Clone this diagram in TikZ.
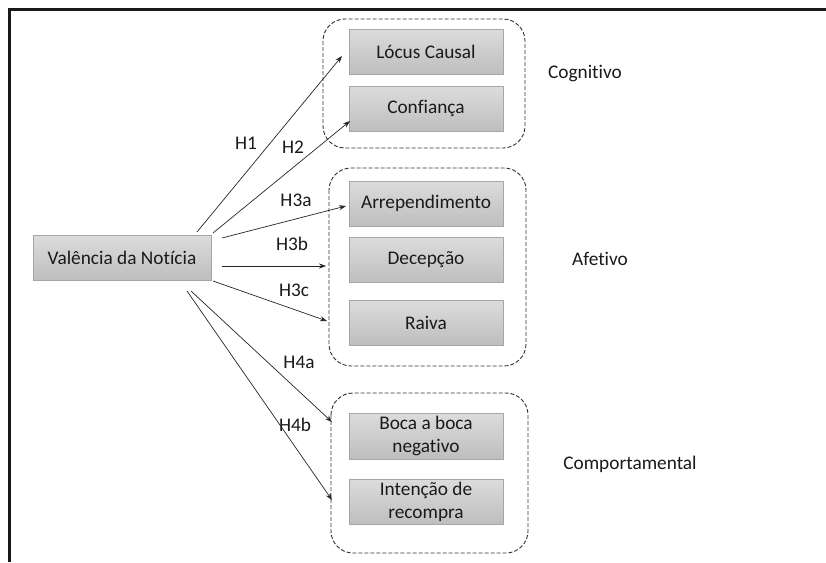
\documentclass[tikz,border=0pt]{standalone}
\usepackage{fontspec}
\setmainfont{Carlito}[Ligatures={NoCommon}]
\usetikzlibrary{arrows.meta}
\definecolor{boxborder}{HTML}{A6A6A6}
\definecolor{boxtop}{HTML}{DCDCDC}
\definecolor{boxbot}{HTML}{BEBEBE}
\definecolor{txt}{HTML}{1A1A1A}
\tikzset{
  varbox/.style={draw=boxborder, line width=0.8pt, top color=boxtop, bottom color=boxbot,
    minimum width=154pt, minimum height=45pt, inner sep=0pt, align=center,
    font=\fontsize{19.3}{23}\selectfont, text=txt},
  groupbox/.style={draw=black!80, dashed, dash pattern=on 4pt off 2pt, line width=0.9pt, rounded corners=22pt},
  grouplabel/.style={font=\fontsize{19.3}{22}\selectfont, text=txt},
  hlabel/.style={font=\fontsize{19.3}{22}\selectfont, text=txt},
  link/.style={draw=black!85, line width=0.7pt, -{Stealth[length=7pt,width=5pt]}},
  frameline/.style={draw=black!90, line width=2.2pt}
}
\begin{document}
\begin{tikzpicture}[x=1pt,y=-1pt]
\useasboundingbox (0,0) rectangle (826,562);
\fill[white] (0,0) rectangle (826,562);
% frame
\draw[frameline] (9.5,562) -- (9.5,9.5) -- (826,9.5);
% group boxes
\draw[groupbox] (323,19) rectangle (525,148);
\draw[groupbox] (329,168) rectangle (526,366);
\draw[groupbox] (331,393) rectangle (528,553);
% source
\node[varbox, minimum width=178pt] (val) at (122,257.5) {Valência da Notícia};
% targets
\node[varbox] (locus) at (426,51.5) {Lócus Causal};
\node[varbox] (conf) at (426,108.5) {Confiança};
\node[varbox] (arre) at (426,203.5) {Arrependimento};
\node[varbox] (dece) at (426,260) {Decepção};
\node[varbox] (raiva) at (426,322.5) {Raiva};
\node[varbox, minimum height=46pt] (boca) at (426,436) {Boca a boca\\negativo};
\node[varbox] (inten) at (426,501.5) {Intenção de\\recompra};
% group labels
\node[grouplabel] (cog) at (585,74) {Cognitivo};
\node[grouplabel] (afe) at (600,259) {Afetivo};
\node[grouplabel] (comp) at (630,464) {Comportamental};
% arrow endpoints
\coordinate (s1) at (197,232);  \coordinate (e1) at (342,56);
\coordinate (s2) at (213,233);  \coordinate (e2) at (350,121);
\coordinate (s3a) at (222,238); \coordinate (e3a) at (346,206);
\coordinate (s3b) at (222,266); \coordinate (e3b) at (326,266);
\coordinate (s3c) at (213,281); \coordinate (e3c) at (327,321);
\coordinate (s4a) at (191,291); \coordinate (e4a) at (332,422);
\coordinate (s4b) at (187,291); \coordinate (e4b) at (332,500);
\draw[link] (s1) -- (e1);
\draw[link] (s2) -- (e2);
\draw[link] (s3a) -- (e3a);
\draw[link] (s3b) -- (e3b);
\draw[link] (s3c) -- (e3c);
\draw[link] (s4a) -- (e4a);
\draw[link] (s4b) -- (e4b);
% hypothesis labels
\node[hlabel] (h1) at (246,143) {H1};
\node[hlabel] (h2) at (293,147) {H2};
\node[hlabel] (h3a) at (296,200) {H3a};
\node[hlabel] (h3b) at (292,244) {H3b};
\node[hlabel] (h3c) at (294,290) {H3c};
\node[hlabel] (h4a) at (299,362) {H4a};
\node[hlabel] (h4b) at (295,425) {H4b};
\end{tikzpicture}
\end{document}
